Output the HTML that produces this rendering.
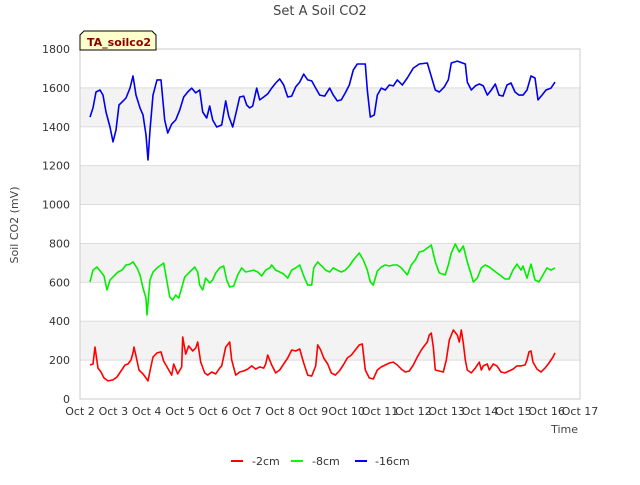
<!DOCTYPE html>
<html><head><meta charset="utf-8"><style>
body{margin:0;background:#fff;font-family:"Liberation Sans","DejaVu Sans",sans-serif}
svg text{font-family:"DejaVu Sans","Liberation Sans",sans-serif}
</style></head><body>
<svg id="chart" width="640" height="480">
<text x="320" y="15" text-anchor="middle" font-size="13" fill="#444">Set A Soil CO2</text>
<g id="bands"></g><g id="grid"></g>
<rect x="80" y="49" width="500" height="350" fill="none" stroke="#ccc"/>
<g id="yticks"></g><g id="xticks"></g><g id="series"></g>
<text transform="translate(18,225) rotate(-90)" text-anchor="middle" font-size="11" fill="#444">Soil CO2 (mV)</text>
<text x="578" y="433" text-anchor="end" font-size="11" fill="#444">Time</text>
<g>
<path d="M80,50 L80,35 L84,31 L152,31 L156,35 L156,50 Z" fill="#ffffcc" stroke="#000"/>
<text x="87" y="46" font-size="11" font-weight="bold" fill="#8b0000">TA_soilco2</text></g>
<g>
<g><line x1="231" y1="461" x2="243" y2="461" stroke="#f00" stroke-width="2"/><text x="252" y="465" font-size="11" fill="#333">-2cm</text></g>
<g><line x1="291" y1="461" x2="303" y2="461" stroke="#0f0" stroke-width="2"/><text x="312" y="465" font-size="11" fill="#333">-8cm</text></g>
<g><line x1="355" y1="461" x2="367" y2="461" stroke="#00f" stroke-width="2"/><text x="375" y="465" font-size="11" fill="#333">-16cm</text></g>
</g>
</svg>
<script>
const xTickLabels=["Oct 2","Oct 3","Oct 4","Oct 5","Oct 6","Oct 7","Oct 8","Oct 9","Oct 10","Oct 11","Oct 12","Oct 13","Oct 14","Oct 15","Oct 16","Oct 17"];
const yTicks=[0,200,400,600,800,1000,1200,1400,1600,1800];
const blueT=[0.30,0.39,0.48,0.60,0.69,0.78,0.90,0.99,1.08,1.17,1.26,1.38,1.50,1.59,1.68,1.80,1.89,1.98,2.04,2.10,2.19,2.31,2.43,2.54,2.63,2.75,2.87,2.99,3.11,3.23,3.35,3.47,3.59,3.68,3.80,3.89,3.98,4.10,4.25,4.37,4.46,4.58,4.70,4.79,4.91,5.00,5.09,5.18,5.30,5.39,5.51,5.63,5.75,5.87,5.99,6.11,6.23,6.35,6.47,6.59,6.71,6.83,6.95,7.07,7.19,7.34,7.49,7.60,7.72,7.84,7.96,8.08,8.20,8.32,8.56,8.62,8.71,8.83,8.92,9.04,9.16,9.28,9.40,9.52,9.67,9.82,10.00,10.18,10.42,10.66,10.78,10.93,11.05,11.14,11.32,11.56,11.62,11.74,11.86,11.98,12.10,12.22,12.34,12.46,12.57,12.69,12.81,12.93,13.05,13.17,13.29,13.41,13.53,13.65,13.74,13.86,13.98,14.13,14.25];
const blueV=[1450,1497,1579,1589,1563,1476,1399,1322,1383,1512,1527,1548,1599,1661,1563,1497,1461,1358,1229,1383,1563,1641,1641,1435,1368,1414,1435,1486,1553,1579,1599,1574,1589,1476,1445,1507,1435,1399,1409,1533,1455,1399,1486,1553,1558,1512,1497,1507,1599,1538,1553,1569,1599,1625,1646,1615,1553,1558,1605,1630,1671,1641,1636,1599,1563,1558,1599,1563,1533,1538,1574,1615,1692,1723,1723,1589,1450,1461,1563,1599,1589,1615,1610,1641,1615,1651,1702,1723,1728,1589,1579,1605,1641,1728,1738,1723,1630,1589,1610,1620,1610,1563,1589,1620,1563,1558,1615,1625,1579,1563,1563,1589,1661,1651,1538,1563,1589,1599,1630];
const greenT=[0.30,0.39,0.51,0.63,0.72,0.81,0.90,1.02,1.14,1.26,1.38,1.50,1.59,1.71,1.80,1.89,1.98,2.01,2.10,2.19,2.31,2.43,2.51,2.60,2.69,2.78,2.87,2.96,3.05,3.14,3.23,3.35,3.44,3.53,3.59,3.68,3.77,3.89,3.98,4.07,4.19,4.31,4.40,4.49,4.61,4.73,4.85,4.97,5.09,5.21,5.33,5.45,5.57,5.69,5.75,5.87,5.99,6.11,6.23,6.35,6.47,6.59,6.71,6.83,6.95,7.01,7.13,7.25,7.37,7.49,7.60,7.72,7.84,7.96,8.08,8.20,8.38,8.50,8.62,8.71,8.80,8.92,9.04,9.16,9.28,9.40,9.52,9.64,9.82,9.94,10.06,10.18,10.30,10.54,10.66,10.78,10.96,11.05,11.14,11.26,11.38,11.50,11.62,11.74,11.80,11.92,12.04,12.16,12.28,12.40,12.51,12.63,12.75,12.87,12.99,13.11,13.23,13.29,13.41,13.53,13.65,13.77,13.89,14.01,14.13,14.25];
const greenV=[602,663,679,653,633,561,612,633,653,663,689,694,705,674,638,571,519,432,612,653,674,689,699,612,525,509,535,519,571,627,643,663,679,653,586,561,622,597,612,648,674,684,612,576,581,638,674,653,658,663,653,633,663,674,689,663,653,643,622,663,674,689,633,586,586,674,705,684,663,653,674,663,653,663,684,715,751,715,663,602,586,658,679,689,684,689,689,674,638,689,715,756,761,792,705,648,638,689,751,797,756,787,705,638,602,622,674,689,679,663,648,633,617,617,663,694,663,684,622,694,612,602,638,674,663,674];
const redT=[0.30,0.39,0.45,0.54,0.63,0.72,0.84,0.99,1.11,1.23,1.35,1.44,1.53,1.59,1.62,1.68,1.77,1.89,1.98,2.04,2.10,2.19,2.31,2.43,2.51,2.63,2.75,2.81,2.93,3.05,3.08,3.17,3.26,3.38,3.47,3.53,3.62,3.74,3.83,3.95,4.07,4.19,4.25,4.37,4.49,4.55,4.67,4.79,4.91,5.03,5.15,5.27,5.39,5.51,5.57,5.63,5.75,5.87,5.99,6.11,6.23,6.35,6.47,6.59,6.71,6.83,6.95,7.07,7.13,7.22,7.31,7.43,7.54,7.66,7.78,7.90,8.02,8.14,8.26,8.38,8.47,8.56,8.68,8.80,8.92,9.04,9.16,9.28,9.40,9.52,9.64,9.76,9.88,10.00,10.12,10.24,10.33,10.42,10.48,10.54,10.60,10.66,10.78,10.90,10.99,11.08,11.20,11.32,11.38,11.44,11.50,11.56,11.62,11.74,11.86,11.98,12.04,12.10,12.22,12.28,12.40,12.51,12.63,12.75,12.87,12.99,13.11,13.23,13.35,13.41,13.47,13.53,13.59,13.71,13.83,13.95,14.07,14.19,14.25];
const redV=[175,180,267,159,139,108,93,98,113,144,175,180,201,237,267,221,149,129,108,93,144,216,237,242,195,159,123,180,129,165,319,231,273,247,262,293,190,134,123,139,129,159,170,267,293,201,123,139,144,154,170,154,165,159,180,226,175,134,149,180,211,252,247,257,185,123,118,170,278,252,211,180,134,123,144,175,211,226,252,278,283,149,108,103,149,165,175,185,190,175,154,139,144,175,216,252,273,293,329,339,267,149,144,139,201,303,355,329,293,355,288,201,149,134,159,190,149,170,180,149,180,170,139,134,144,154,170,170,175,201,242,247,190,154,139,159,185,216,237];

const NS="http://www.w3.org/2000/svg";
const X0=80,X1=580,Y0=399,Y1=49;
function xs(d){return X0+d*(X1-X0)/15;}
function ys(v){return Y0-v*(Y0-Y1)/1800;}
function mk(tag,attrs,parent){const e=document.createElementNS(NS,tag);for(const k in attrs)e.setAttribute(k,attrs[k]);parent.appendChild(e);return e;}
const bands=document.getElementById('bands'),grid=document.getElementById('grid'),yt=document.getElementById('yticks'),xt=document.getElementById('xticks'),ser=document.getElementById('series');
for(let i=0;i<yTicks.length-1;i++){
  if(i%2===1){const r=mk('rect',{x:X0,y:ys(yTicks[i+1]),width:X1-X0,height:ys(yTicks[i])-ys(yTicks[i+1]),fill:'#f3f3f3'},bands);
  
  }
}
yTicks.forEach(v=>{
  const l=mk('line',{x1:X0,x2:X1,y1:ys(v),y2:ys(v),stroke:'#ddd'},grid);
  
  
  const t=mk('text',{x:70,y:ys(v)+4,'text-anchor':'end','font-size':11,fill:'#333'},yt);t.textContent=v;
  
  
});
xTickLabels.forEach((s,i)=>{
  const t=mk('text',{x:xs(i),y:415,'text-anchor':'middle','font-size':11,fill:'#333'},xt);t.textContent=s;
  
  
});
function line(T,V,color,name){
  const d=T.map((t,i)=>(i?'L':'M')+xs(t).toFixed(1)+','+ys(V[i]).toFixed(1)).join('');
  const p=mk('path',{d:d,fill:'none',stroke:color,'stroke-width':1.6,'stroke-linejoin':'round'},ser);
  
  
}
line(redT,redV,'#ff0000','series-2cm');
line(greenT,greenV,'#00ee00','series-8cm');
line(blueT,blueV,'#0000ee','series-16cm');
</script>
</body></html>
